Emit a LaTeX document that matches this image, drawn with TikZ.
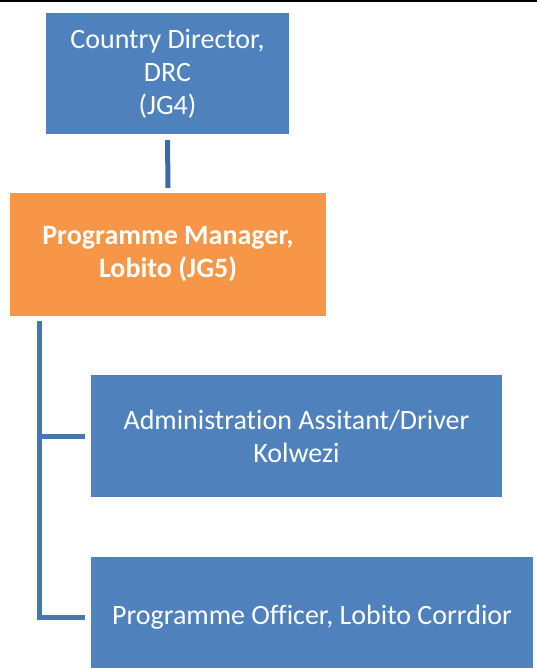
\documentclass[tikz,border=0pt]{standalone}
\usepackage{fontspec}
\setmainfont{Carlito}[Ligatures=NoCommon]
\definecolor{boxblue}{HTML}{4F81BD}
\definecolor{boxorange}{HTML}{F79646}
\definecolor{lineblue}{HTML}{4A76AE}
\definecolor{darkline}{HTML}{3E6A9E}
\begin{document}
\begin{tikzpicture}[x=1pt,y=-1pt,
  orgbox/.style={rectangle, draw=none, text=white, align=center, inner sep=0pt,
    font=\fontsize{28}{33}\selectfont},
  conn/.style={line width=5pt, lineblue}]
\useasboundingbox (0,0) rectangle (537,668);
\clip (0,0) rectangle (537,668);
\fill[black] (0,0) rectangle (537,2);
\node[orgbox, fill=boxblue, minimum width=243pt, minimum height=121pt] (cd) at (167.5,73.5)
  {Country Director,\\DRC\\(JG4)};
\node[orgbox, fill=boxorange, minimum width=316pt, minimum height=123pt, font=\fontsize{28}{33}\selectfont\bfseries] (pm) at (168,254.5)
  {Programme Manager,\\Lobito (JG5)};
\node[orgbox, fill=boxblue, minimum width=411pt, minimum height=122pt] (aa) at (296.5,436)
  {Administration Assitant/Driver\\Kolwezi};
\node[orgbox, fill=boxblue, minimum width=442pt, minimum height=120pt] (po) at (312,617)
  {Programme Officer, Lobito Corrdior};
\coordinate (top) at ([xshift=30pt,yshift=-5pt]pm.south west);
\draw[conn, darkline] ([yshift=-6pt]cd.south) -- ([yshift=5pt]pm.north);
\draw[conn] (top) |- ([xshift=-6pt]aa.west);
\draw[conn] (top) |- ([xshift=-6pt]po.west);
\end{tikzpicture}
\end{document}
